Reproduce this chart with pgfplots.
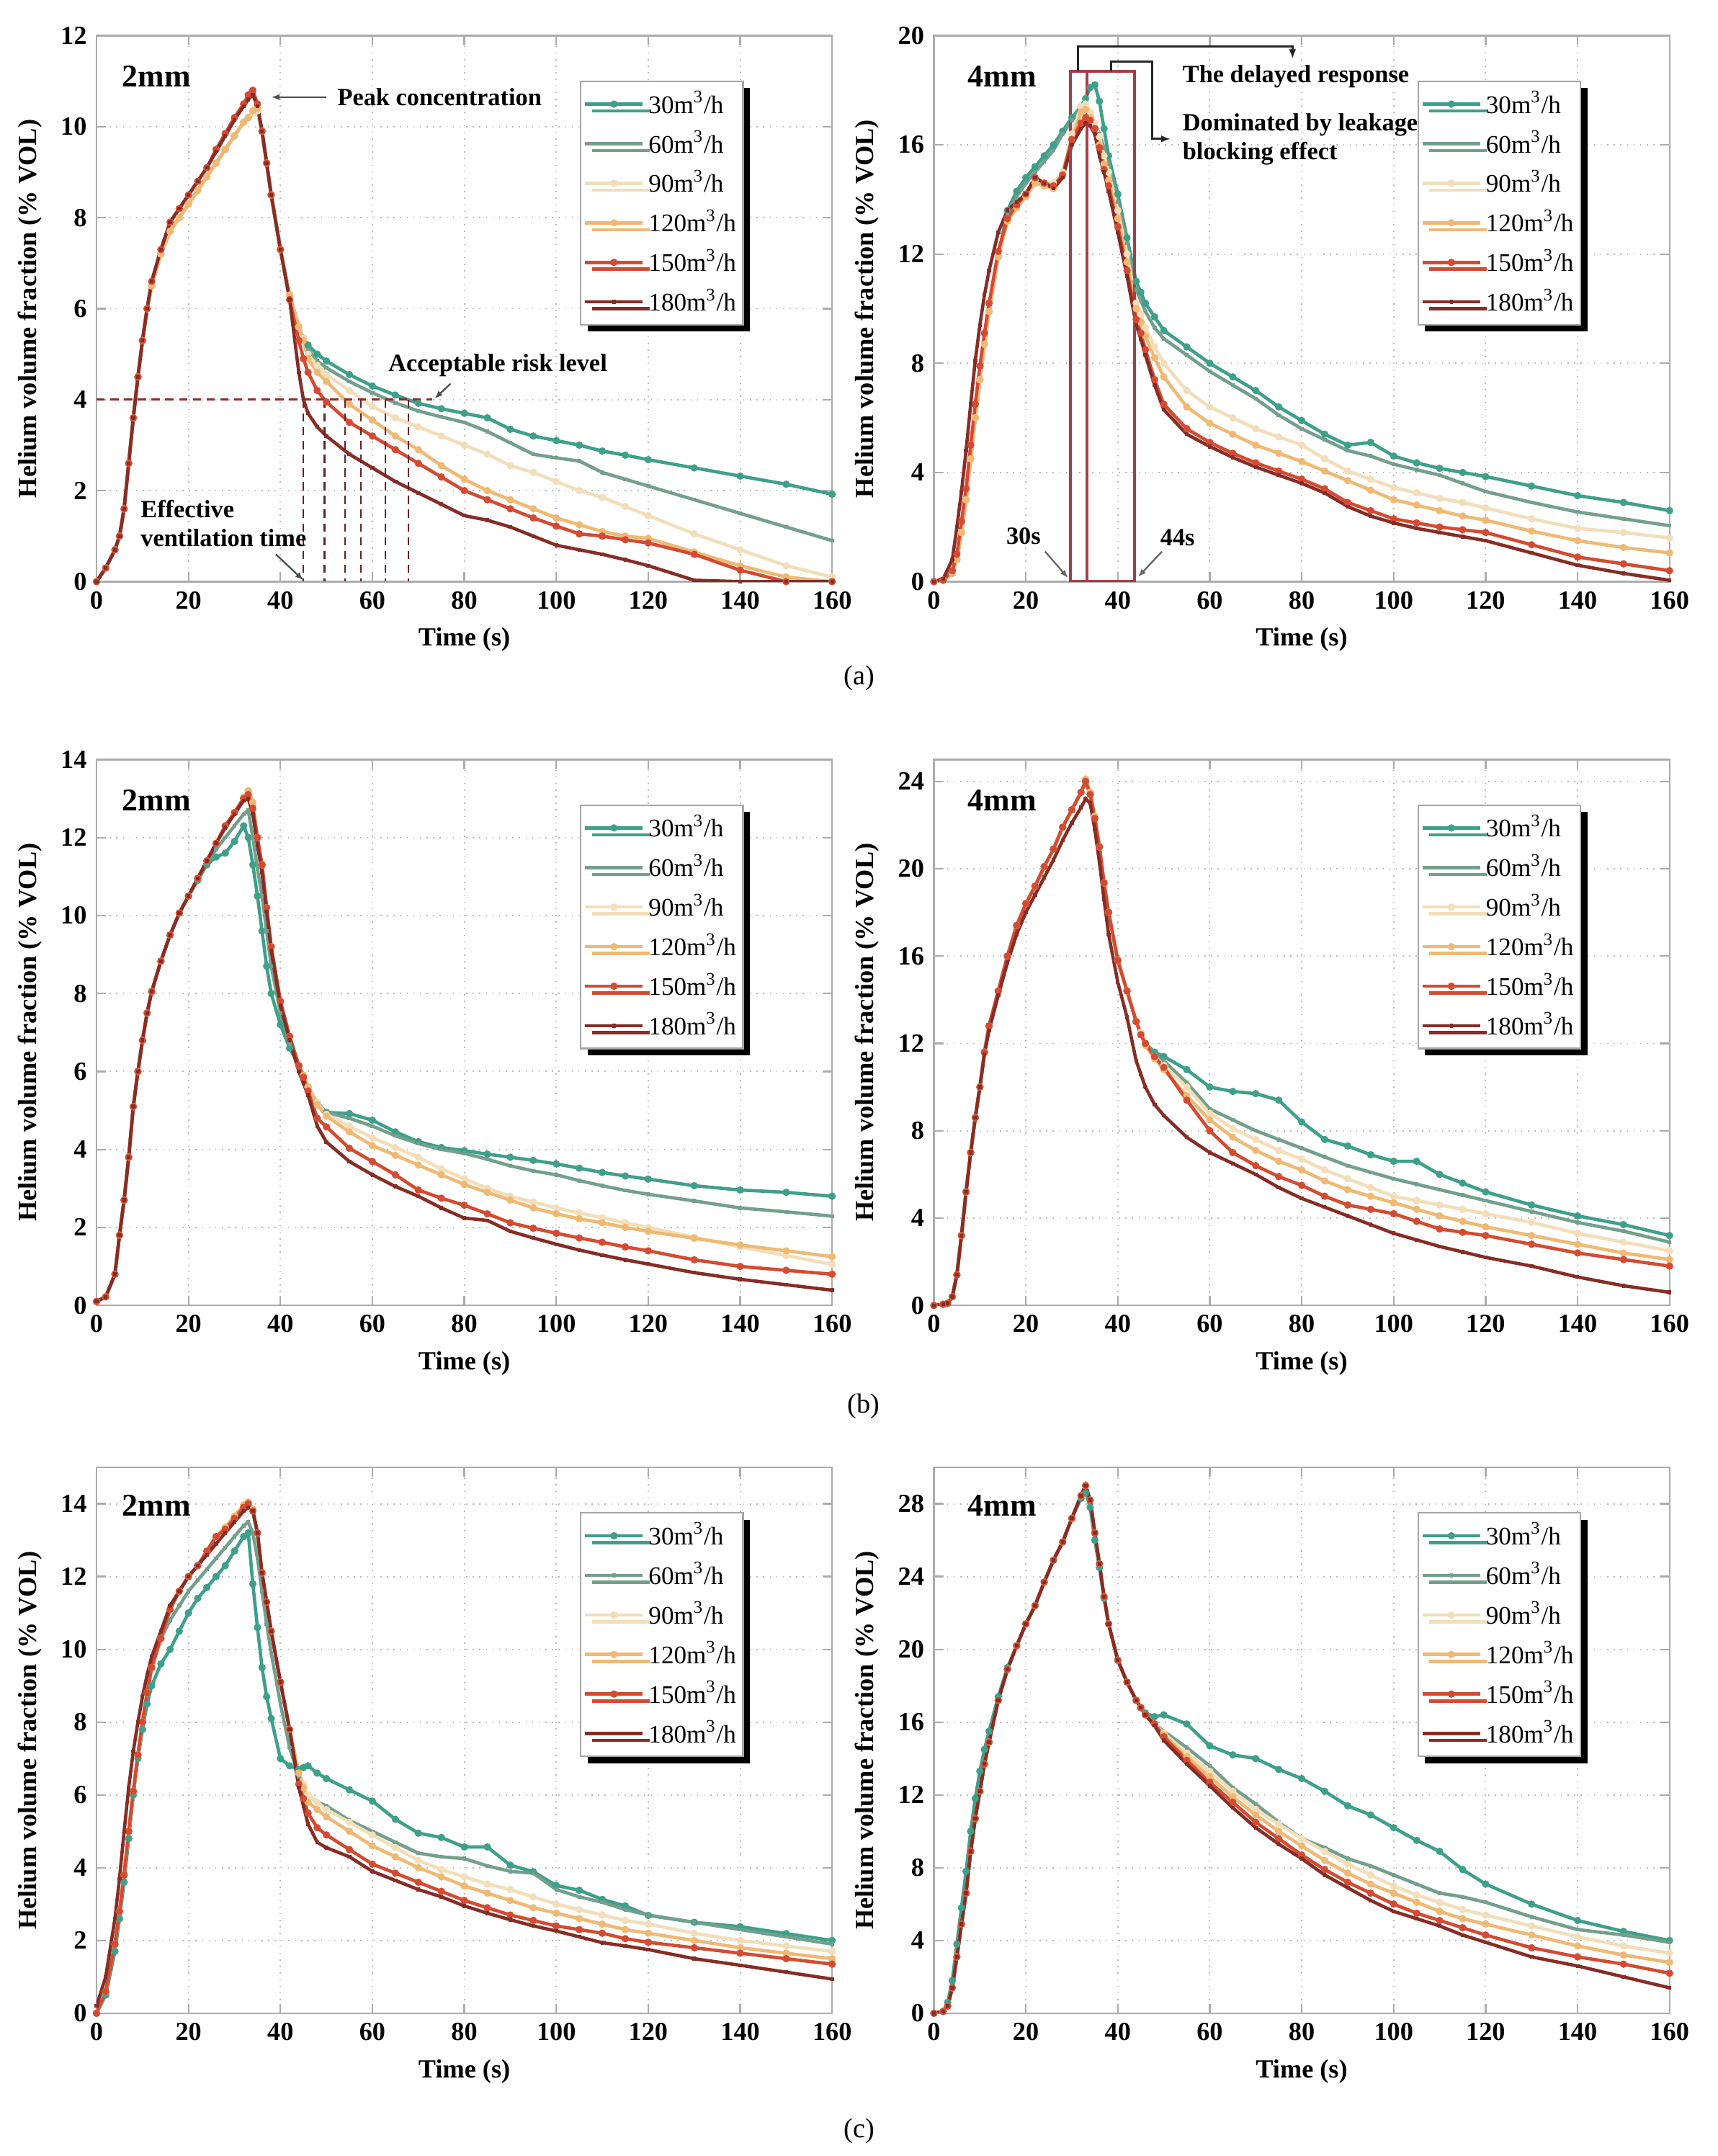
\documentclass[border=0pt]{standalone}
\usepackage{fontspec}
\setmainfont{Liberation Serif}
\usepackage{pgfplots}
\usepackage{pgfplotstable}
\pgfplotsset{compat=1.18}
\usetikzlibrary{shadows,arrows.meta}
\definecolor{c30}{RGB}{62,160,138}
\definecolor{c60}{RGB}{115,160,140}
\definecolor{c90}{RGB}{242,222,185}
\definecolor{c120}{RGB}{240,185,115}
\definecolor{c150}{RGB}{212,75,50}
\definecolor{c180}{RGB}{135,45,38}
\definecolor{crect}{RGB}{170,60,72}
\definecolor{cdash}{RGB}{150,40,40}
\definecolor{cvdash}{RGB}{100,35,35}
\newcommand{\flow}[1]{#1m\textsuperscript{3}/h}
\newcommand{\af}{\fontsize{9}{10.4}\selectfont\bfseries}

\pgfplotsset{
 panel/.style={
  scale only axis, width=267.5pt, height=198.5pt, anchor=south west,
  xmin=0, xmax=160, ymin=0, xtick={0,20,...,160},
  grid=major, grid style={dotted, gray!55, line width=0.5pt},
  axis line style={gray!65, line width=0.6pt},
  tick align=inside, major tick length=3.5pt, tick style={gray!65, line width=0.6pt},
  /pgf/number format/assume math mode=true,
  xticklabel={\textbf{\pgfmathprintnumber{\tick}}},
  yticklabel={\textbf{\pgfmathprintnumber{\tick}}},
  tick label style={font=\fontsize{9.5}{10}\selectfont\bfseries},
  label style={font=\fontsize{9.5}{11}\selectfont\bfseries},
  xlabel={Time (s)}, ylabel={Helium volume fraction (\% VOL)},
  legend cell align=left,
  legend style={at={(0.88,0.918)}, anchor=north east, draw=gray!70, line width=0.6pt, fill=white,
    font=\fontsize{9.2}{10}\selectfont, inner xsep=1pt, inner ysep=2pt, row sep=1.8pt,
    nodes={inner sep=1.5pt},
    drop shadow={shadow xshift=2.5pt, shadow yshift=-2.5pt, fill=black, opacity=1}},
  legend image code/.code={\draw[mark repeat=2,mark phase=2,##1] plot coordinates {(0pt,0pt) (10.5pt,0pt) (21pt,0pt)};},
  every axis plot/.append style={line width=1.2pt, mark size=0.7pt, mark options={solid}},
 },
 s30/.style={color=c30, mark=*},
 s60/.style={color=c60, mark=+},
 s90/.style={color=c90, mark=*},
 s120/.style={color=c120, mark=*},
 s150/.style={color=c150, mark=*},
 s180/.style={color=c180, mark=+},
}

\pgfplotstableread{
t a b c d e f
0 0 0 0 0 0 0
2 0.3 0.3 0.3 0.3 0.3 0.3
4 0.7 0.7 0.7 0.7 0.7 0.7
5 1.0 1.0 1.0 1.0 1.0 1.0
6 1.6 1.6 1.6 1.6 1.6 1.6
7 2.6 2.6 2.6 2.6 2.6 2.6
8 3.6 3.6 3.6 3.6 3.6 3.6
9 4.5 4.5 4.5 4.5 4.5 4.5
10 5.3 5.3 5.3 5.3 5.3 5.3
11 6.0 6.0 6.0 6.0 6.0 6.0
12 6.5 6.5 6.5 6.5 6.6 6.6
14 7.2 7.2 7.2 7.2 7.3 7.3
16 7.7 7.7 7.7 7.7 7.9 7.9
18 8.0 8.0 8.0 8.0 8.2 8.2
20 8.3 8.3 8.3 8.3 8.5 8.5
22 8.6 8.6 8.6 8.6 8.8 8.8
24 8.9 8.9 8.9 8.9 9.1 9.1
26 9.2 9.2 9.2 9.2 9.5 9.45
28 9.5 9.5 9.5 9.5 9.85 9.8
30 9.8 9.8 9.8 9.8 10.2 10.15
32 10.1 10.1 10.1 10.1 10.5 10.45
33 10.2 10.2 10.2 10.2 10.7 10.6
34 10.3 10.3 10.3 10.35 10.8 10.7
35 10.35 10.35 10.35 10.4 10.5 10.45
36 9.9 9.9 9.9 9.9 9.9 9.9
37 9.2 9.2 9.2 9.2 9.2 9.2
38 8.5 8.5 8.5 8.5 8.5 8.5
40 7.3 7.3 7.3 7.3 7.3 7.3
42 6.3 6.3 6.3 6.3 6.2 6.2
44 5.6 5.6 5.6 5.6 5.3 4.6
45 5.35 5.35 5.35 5.3 4.9 4.0
46 5.2 5.1 5.0 4.9 4.6 3.7
48 5.0 4.85 4.75 4.6 4.2 3.4
50 4.85 4.7 4.55 4.4 3.95 3.2
55 4.55 4.4 4.2 3.9 3.5 2.8
60 4.3 4.15 3.85 3.55 3.2 2.5
65 4.1 3.93 3.6 3.2 2.9 2.2
70 3.92 3.75 3.4 2.9 2.6 1.95
75 3.8 3.62 3.2 2.55 2.3 1.7
80 3.7 3.5 3.0 2.25 2.0 1.45
85 3.6 3.3 2.8 2.0 1.8 1.35
90 3.35 3.05 2.55 1.8 1.6 1.2
95 3.2 2.8 2.4 1.6 1.4 1.0
100 3.1 2.72 2.2 1.4 1.22 0.8
105 3.0 2.65 2.0 1.25 1.05 0.7
110 2.87 2.4 1.85 1.1 1.0 0.6
115 2.78 2.25 1.65 1.0 0.92 0.48
120 2.68 2.1 1.45 0.95 0.85 0.35
130 2.5 1.8 1.05 0.65 0.6 0.03
140 2.32 1.5 0.7 0.35 0.25 0
150 2.14 1.2 0.35 0.1 0 0
160 1.92 0.9 0.1 0 0 0
}\tAL

\pgfplotstableread{
t a b c d e f
0 0 0 0 0 0 0
2 0.05 0.05 0.05 0.05 0.05 0.1
4 0.3 0.3 0.3 0.3 0.4 0.8
5 0.8 0.8 0.8 0.8 1.0 2.0
6 1.8 1.8 1.8 1.8 2.2 3.3
7 3.0 3.0 3.0 3.0 3.4 4.8
8 4.5 4.5 4.5 4.5 5.0 6.5
9 6.0 6.0 6.0 6.0 6.5 8.1
10 7.4 7.4 7.4 7.4 7.9 9.4
11 8.7 8.7 8.7 8.7 9.1 10.5
12 9.9 9.9 9.9 9.9 10.2 11.4
14 11.9 11.9 11.9 11.9 12.1 12.8
16 13.6 13.5 13.3 13.2 13.3 13.6
18 14.3 14.1 13.8 13.7 13.8 13.9
20 14.8 14.6 14.2 14.1 14.2 14.2
22 15.2 15.0 14.7 14.6 14.8 14.8
24 15.6 15.4 14.6 14.5 14.6 14.6
26 16.0 15.8 14.6 14.4 14.5 14.4
28 16.5 16.4 15.0 14.9 14.9 14.8
30 17.0 16.9 16.4 16.2 16.2 16.0
32 17.4 17.3 17.4 17.2 16.8 16.6
33 17.7 17.4 17.5 17.3 17.0 16.8
34 18.1 17.2 17.2 17.0 16.9 16.7
35 18.2 16.8 16.8 16.6 16.6 16.4
36 17.6 16.4 16.3 16.0 15.9 15.6
37 16.6 15.9 15.6 15.3 15.1 15.0
38 15.6 15.3 15.0 14.7 14.5 14.3
40 14.2 13.9 13.6 13.3 13.0 12.8
42 12.6 12.4 12.0 11.7 11.4 11.2
44 11.0 10.7 10.2 10.0 9.6 9.4
45 10.6 10.3 9.8 9.5 9.1 8.9
46 10.2 9.9 9.3 9.0 8.5 8.3
48 9.7 9.3 8.6 8.2 7.4 7.2
50 9.2 8.9 8.0 7.5 6.5 6.3
55 8.6 8.3 7.0 6.4 5.6 5.4
60 8.0 7.7 6.4 5.8 5.1 4.95
65 7.5 7.2 6.0 5.4 4.7 4.55
70 7.0 6.7 5.6 5.0 4.35 4.2
75 6.4 6.1 5.3 4.7 4.05 3.9
80 5.9 5.6 5.0 4.4 3.75 3.6
85 5.4 5.2 4.5 4.05 3.4 3.25
90 5.0 4.8 4.05 3.7 2.9 2.75
95 5.1 4.6 3.75 3.35 2.6 2.4
100 4.6 4.3 3.45 3.0 2.3 2.15
105 4.35 4.1 3.25 2.8 2.15 1.95
110 4.15 3.9 3.05 2.6 2.0 1.8
115 4.0 3.6 2.9 2.4 1.9 1.65
120 3.85 3.3 2.7 2.25 1.8 1.5
130 3.5 2.9 2.3 1.85 1.35 1.05
140 3.15 2.55 1.95 1.5 0.9 0.6
150 2.9 2.3 1.8 1.25 0.65 0.3
160 2.6 2.05 1.6 1.05 0.4 0.05
}\tAR

\pgfplotstableread{
t a b c d e f
0 0.1 0.1 0.1 0.1 0.1 0.1
2 0.22 0.22 0.22 0.22 0.22 0.22
4 0.8 0.8 0.8 0.8 0.8 0.8
5 1.8 1.8 1.8 1.8 1.8 1.8
6 2.7 2.7 2.7 2.7 2.7 2.7
7 3.8 3.8 3.8 3.8 3.8 3.8
8 5.1 5.1 5.1 5.1 5.1 5.1
9 6.0 6.0 6.0 6.0 6.0 6.0
10 6.8 6.8 6.8 6.8 6.8 6.8
11 7.5 7.5 7.5 7.5 7.5 7.5
12 8.05 8.05 8.05 8.05 8.05 8.05
14 8.83 8.83 8.83 8.83 8.83 8.83
16 9.5 9.5 9.5 9.5 9.5 9.5
18 10.06 10.06 10.06 10.06 10.06 10.06
20 10.5 10.5 10.5 10.5 10.5 10.5
22 10.9 10.95 10.95 10.95 10.95 10.95
24 11.3 11.35 11.4 11.4 11.4 11.4
26 11.5 11.7 11.85 11.85 11.85 11.85
28 11.6 12.0 12.3 12.3 12.3 12.25
30 11.9 12.3 12.64 12.64 12.64 12.6
32 12.3 12.6 13.03 13.03 13.0 12.95
33 12.0 12.7 13.2 13.2 13.1 13.0
34 11.3 12.0 12.9 12.9 12.75 12.6
35 10.5 11.2 12.0 12.0 12.0 11.8
36 9.6 10.5 11.3 11.3 11.3 11.1
37 8.7 9.6 10.2 10.2 10.2 10.1
38 8.0 8.7 9.2 9.2 9.2 9.1
40 7.2 7.5 7.8 7.8 7.8 7.7
42 6.6 6.7 6.9 6.9 6.9 6.8
44 6.15 6.15 6.15 6.15 6.15 6.0
45 5.9 5.9 5.9 5.9 5.85 5.7
46 5.6 5.6 5.6 5.6 5.5 5.4
48 5.2 5.2 5.2 5.15 4.8 4.6
50 4.95 4.95 4.9 4.85 4.58 4.19
55 4.92 4.8 4.6 4.45 4.03 3.69
60 4.75 4.6 4.3 4.1 3.69 3.35
65 4.45 4.35 4.05 3.85 3.35 3.05
70 4.2 4.15 3.8 3.6 2.96 2.8
75 4.05 4.0 3.5 3.35 2.75 2.5
80 3.97 3.9 3.25 3.1 2.57 2.24
85 3.88 3.75 3.0 2.9 2.35 2.18
90 3.8 3.58 2.8 2.7 2.12 1.9
95 3.72 3.45 2.65 2.5 1.98 1.73
100 3.63 3.35 2.5 2.35 1.85 1.57
105 3.52 3.2 2.37 2.22 1.73 1.42
110 3.41 3.07 2.25 2.12 1.62 1.29
115 3.32 2.95 2.12 2.0 1.5 1.17
120 3.24 2.85 2.0 1.9 1.4 1.06
130 3.07 2.68 1.75 1.72 1.17 0.84
140 2.96 2.5 1.5 1.55 1.0 0.67
150 2.9 2.4 1.28 1.4 0.9 0.53
160 2.8 2.29 1.05 1.25 0.8 0.39
}\tBL

\pgfplotstableread{
t a b c d e f
0 0 0 0 0 0 0
2 0.05 0.05 0.05 0.05 0.05 0.05
3 0.1 0.1 0.1 0.1 0.1 0.1
4 0.4 0.4 0.4 0.4 0.4 0.4
5 1.4 1.4 1.4 1.4 1.4 1.4
6 3.2 3.2 3.2 3.2 3.2 3.2
7 5.2 5.2 5.2 5.2 5.2 5.2
8 7.0 7.0 7.0 7.0 7.0 7.0
9 8.6 8.6 8.6 8.6 8.6 8.6
10 10.0 10.0 10.0 10.0 10.0 10.0
11 11.6 11.6 11.6 11.6 11.6 11.5
12 12.8 12.8 12.8 12.8 12.8 12.6
14 14.4 14.4 14.4 14.4 14.4 14.2
16 16.0 16.0 16.0 16.0 16.0 15.7
18 17.4 17.4 17.4 17.4 17.4 17.0
20 18.4 18.4 18.4 18.4 18.4 18.0
22 19.2 19.2 19.2 19.2 19.2 18.8
24 20.1 20.1 20.1 20.1 20.1 19.6
26 20.9 20.9 20.9 20.9 20.9 20.4
28 21.9 21.9 21.9 21.9 21.9 21.3
30 22.7 22.7 22.7 22.7 22.7 22.1
32 23.5 23.5 23.5 23.5 23.5 22.8
33 24.0 24.0 24.1 24.1 24.0 23.2
34 23.4 23.4 23.5 23.5 23.4 23.0
35 22.3 22.3 22.4 22.4 22.3 21.8
36 21.0 21.0 21.0 21.0 21.0 20.3
37 19.35 19.35 19.35 19.35 19.35 18.6
38 18.0 18.0 18.0 18.0 18.0 17.0
40 15.8 15.8 15.8 15.8 15.8 14.8
42 14.4 14.4 14.4 14.4 14.4 13.2
44 13.0 13.0 13.0 13.0 13.0 11.2
45 12.5 12.5 12.5 12.4 12.4 10.6
46 12.0 12.0 12.0 11.9 12.0 10.0
48 11.6 11.5 11.4 11.3 11.4 9.2
50 11.4 11.2 11.0 10.8 10.9 8.7
55 10.8 10.2 10.0 9.6 9.4 7.7
60 10.0 9.0 8.8 8.5 8.0 7.0
65 9.8 8.5 8.1 7.7 7.0 6.5
70 9.7 8.0 7.6 7.1 6.4 6.0
75 9.4 7.6 7.1 6.6 5.9 5.4
80 8.4 7.2 6.7 6.2 5.5 4.9
85 7.6 6.8 6.2 5.7 5.0 4.5
90 7.3 6.4 5.8 5.3 4.6 4.1
95 6.9 6.1 5.4 5.0 4.4 3.7
100 6.6 5.8 5.0 4.7 4.2 3.3
105 6.6 5.55 4.8 4.4 3.85 3.0
110 6.0 5.3 4.6 4.1 3.5 2.7
115 5.6 5.05 4.4 3.85 3.35 2.45
120 5.2 4.8 4.2 3.6 3.2 2.2
130 4.6 4.3 3.8 3.2 2.8 1.8
140 4.1 3.8 3.3 2.8 2.4 1.3
150 3.7 3.4 2.9 2.4 2.1 0.9
160 3.2 2.9 2.5 2.1 1.8 0.6
}\tBR

\pgfplotstableread{
t a b c d e f
0 0 0 0 0 0 0.2
2 0.5 0.6 0.6 0.6 0.6 1.0
4 1.7 1.9 1.9 1.9 1.9 2.6
5 2.6 2.8 2.8 2.8 2.8 3.7
6 3.6 3.8 3.8 3.8 3.8 5.0
7 4.8 5.0 5.0 5.0 5.0 6.2
8 6.0 6.1 6.1 6.1 6.1 7.2
9 7.0 7.1 7.1 7.1 7.1 8.0
10 7.8 8.0 8.0 8.0 8.0 8.7
11 8.5 8.8 8.8 8.8 8.8 9.3
12 9.0 9.5 9.5 9.5 9.5 9.8
14 9.6 10.3 10.3 10.3 10.3 10.5
16 10.0 10.8 11.1 11.1 11.1 11.2
18 10.5 11.2 11.6 11.6 11.6 11.6
20 11.0 11.6 12.0 12.0 12.0 12.0
22 11.4 11.9 12.3 12.3 12.3 12.3
24 11.7 12.2 12.7 12.7 12.7 12.6
26 12.0 12.5 13.1 13.1 13.1 12.9
28 12.3 12.8 13.35 13.35 13.3 13.2
30 12.7 13.1 13.66 13.66 13.6 13.5
32 13.1 13.4 13.97 13.97 13.9 13.8
33 13.2 13.5 14.05 14.05 14.0 13.9
34 11.8 13.2 13.85 13.85 13.8 13.8
35 10.6 12.5 13.2 13.2 13.2 13.2
36 9.5 11.6 12.1 12.1 12.1 12.1
37 8.7 10.7 11.3 11.3 11.3 11.3
38 8.1 9.9 10.5 10.5 10.5 10.5
40 7.0 8.5 9.1 9.1 9.1 9.1
42 6.8 7.3 7.8 7.8 7.8 7.8
44 6.7 6.5 6.6 6.6 6.3 6.2
45 6.75 6.2 6.3 6.2 5.9 5.7
46 6.8 6.0 6.0 5.8 5.5 5.2
48 6.6 5.8 5.8 5.6 5.1 4.7
50 6.45 5.7 5.6 5.4 4.9 4.55
55 6.14 5.3 5.25 5.0 4.5 4.3
60 5.83 5.0 4.9 4.6 4.1 3.9
65 5.33 4.7 4.55 4.3 3.85 3.65
70 4.95 4.4 4.2 4.0 3.6 3.4
75 4.83 4.3 3.95 3.75 3.35 3.2
80 4.57 4.25 3.75 3.5 3.1 2.95
85 4.57 4.05 3.55 3.3 2.9 2.75
90 4.07 3.9 3.4 3.1 2.7 2.57
95 3.89 3.85 3.2 2.9 2.55 2.4
100 3.51 3.4 3.0 2.75 2.4 2.26
105 3.38 3.2 2.85 2.6 2.3 2.1
110 3.13 3.05 2.7 2.45 2.2 1.94
115 2.95 2.85 2.55 2.3 2.05 1.85
120 2.69 2.7 2.45 2.2 1.95 1.75
130 2.5 2.5 2.2 2.0 1.8 1.5
140 2.38 2.3 2.0 1.8 1.65 1.32
150 2.19 2.1 1.85 1.65 1.5 1.13
160 2.0 1.9 1.7 1.5 1.35 0.94
}\tCL

\pgfplotstableread{
t a b c d e f
0 0 0 0 0 0 0
2 0.1 0.1 0.1 0.1 0.1 0.1
3 0.6 0.4 0.4 0.4 0.4 0.4
4 1.8 1.4 1.4 1.4 1.4 1.4
5 3.8 3.1 3.1 3.1 3.1 3.1
6 5.8 4.9 4.9 4.9 4.9 4.9
7 7.8 6.6 6.6 6.6 6.6 6.6
8 10.0 8.9 8.9 8.9 8.9 8.9
9 11.8 10.7 10.7 10.7 10.7 10.7
10 13.3 12.2 12.2 12.2 12.2 12.2
11 14.5 13.7 13.7 13.7 13.7 13.7
12 15.5 14.9 14.9 14.9 14.9 14.9
14 17.4 17.2 17.2 17.2 17.2 17.2
16 19.0 18.9 18.9 18.9 18.9 18.9
18 20.2 20.2 20.2 20.2 20.2 20.2
20 21.4 21.4 21.4 21.4 21.4 21.4
22 22.4 22.4 22.4 22.4 22.4 22.4
24 23.7 23.7 23.7 23.7 23.7 23.7
26 24.9 24.9 24.9 24.9 24.9 24.9
28 25.9 25.9 25.9 25.9 25.9 25.9
30 27.2 27.2 27.2 27.2 27.2 27.2
32 28.3 28.45 28.45 28.45 28.45 28.45
33 28.6 29.0 29.0 29.0 29.0 29.0
34 27.8 28.2 28.2 28.2 28.2 28.2
35 26.0 26.4 26.4 26.4 26.4 26.4
36 24.5 24.7 24.7 24.7 24.7 24.7
37 22.8 22.9 22.9 22.9 22.9 22.9
38 21.4 21.4 21.4 21.4 21.4 21.4
40 19.4 19.4 19.4 19.4 19.4 19.4
42 18.2 18.2 18.2 18.2 18.2 18.2
44 17.2 17.2 17.2 17.2 17.2 17.2
45 16.8 16.8 16.8 16.8 16.8 16.8
46 16.5 16.4 16.4 16.4 16.4 16.4
48 16.3 15.9 15.9 15.9 15.9 15.8
50 16.4 15.5 15.4 15.3 15.2 15.0
55 15.9 14.6 14.3 14.1 13.9 13.7
60 14.7 13.6 13.3 13.0 12.7 12.5
65 14.2 12.4 12.2 11.9 11.6 11.3
70 14.0 11.5 11.2 10.9 10.5 10.2
75 13.4 10.5 10.4 10.0 9.6 9.3
80 12.9 9.6 9.6 9.2 8.7 8.5
85 12.2 9.1 8.9 8.4 7.9 7.6
90 11.4 8.5 8.2 7.7 7.2 6.9
95 10.9 8.1 7.6 7.1 6.6 6.2
100 10.2 7.6 7.0 6.6 6.0 5.6
105 9.5 7.1 6.5 6.1 5.5 5.2
110 8.9 6.6 6.1 5.6 5.1 4.8
115 7.9 6.4 5.7 5.2 4.7 4.3
120 7.1 6.1 5.4 4.9 4.3 3.9
130 6.0 5.3 4.8 4.3 3.6 3.1
140 5.1 4.6 4.2 3.7 3.1 2.6
150 4.5 4.3 3.7 3.2 2.7 2.0
160 4.0 3.9 3.3 2.8 2.2 1.4
}\tCR

\begin{document}
\begin{tikzpicture}
\useasboundingbox (0,0) rectangle (624.5pt,784pt);

% ---------------- (a) left
\begin{axis}[panel, at={(35.1pt,572.5pt)}, ymax=12, ytick={0,2,...,12}]
\addplot[s30] table[x=t,y=a]{\tAL};
\addplot[s60] table[x=t,y=b]{\tAL};
\addplot[s90] table[x=t,y=c]{\tAL};
\addplot[s120] table[x=t,y=d]{\tAL};
\addplot[s150] table[x=t,y=e]{\tAL};
\addplot[s180] table[x=t,y=f]{\tAL};
\legend{\flow{30},\flow{60},\flow{90},\flow{120},\flow{150},\flow{180}}
\draw[densely dashed, cdash, line width=0.7pt] (axis cs:0,4) -- (axis cs:73,4);
\draw[densely dashed, cvdash, line width=0.6pt] (axis cs:45,4) -- (axis cs:45,0);
\draw[densely dashed, cvdash, line width=0.6pt] (axis cs:49.6,4) -- (axis cs:49.6,0);
\draw[densely dashed, cvdash, line width=0.6pt] (axis cs:54,4) -- (axis cs:54,0);
\draw[densely dashed, cvdash, line width=0.6pt] (axis cs:57.5,4) -- (axis cs:57.5,0);
\draw[densely dashed, cvdash, line width=0.6pt] (axis cs:62.8,4) -- (axis cs:62.8,0);
\draw[densely dashed, cvdash, line width=0.6pt] (axis cs:67.8,4) -- (axis cs:67.8,0);
\draw[-{Latex[length=3pt]}, black!70, line width=0.6pt] (axis cs:50,10.65) -- (axis cs:38,10.65);
\node[anchor=west, font=\af] at (axis cs:50.3,10.65) {Peak concentration};
\node[anchor=west, font=\af] at (axis cs:61.4,4.75) {Acceptable risk level};
\draw[-{Latex[length=3pt]}, black!70, line width=0.6pt] (axis cs:77,4.35) -- (axis cs:73.5,4.02);
\node[anchor=west, align=left, font=\af] at (axis cs:7.5,1.28) {Effective\\ventilation time};
\draw[-{Latex[length=3pt]}, black!70, line width=0.6pt] (axis cs:39,0.6) -- (axis cs:45,0.03);
\node[anchor=west, font=\fontsize{11.5}{13}\selectfont\bfseries] at (rel axis cs:0.022,0.925) {2mm};
\end{axis}

% ---------------- (a) right
\begin{axis}[panel, at={(339.6pt,572.5pt)}, ymax=20, ytick={0,4,...,20}]
\addplot[s30] table[x=t,y=a]{\tAR};
\addplot[s60] table[x=t,y=b]{\tAR};
\addplot[s90] table[x=t,y=c]{\tAR};
\addplot[s120] table[x=t,y=d]{\tAR};
\addplot[s150] table[x=t,y=e]{\tAR};
\addplot[s180] table[x=t,y=f]{\tAR};
\legend{\flow{30},\flow{60},\flow{90},\flow{120},\flow{150},\flow{180}}
\draw[crect, line width=1pt] (axis cs:29.7,0) rectangle (axis cs:43.6,18.7);
\draw[crect, line width=1pt] (axis cs:33.3,0) -- (axis cs:33.3,18.7);
\draw[-{Latex[length=3.5pt]}, black!85, line width=0.8pt] (axis cs:31.4,18.7) -- (axis cs:31.4,19.6) -- (axis cs:78,19.6) -- (axis cs:78,19.15);
\draw[-{Latex[length=3.5pt]}, black!85, line width=0.8pt] (axis cs:38.6,18.7) -- (axis cs:38.6,19.05) -- (axis cs:47.5,19.05) -- (axis cs:47.5,16.22) -- (axis cs:51.5,16.22);
\node[anchor=west, font=\af] at (axis cs:52,18.5) {The delayed response};
\node[anchor=west, align=left, font=\af] at (axis cs:52,16.2) {Dominated by leakage\\blocking effect};
\node[font=\af] at (axis cs:19.5,1.67) {30s};
\draw[-{Latex[length=3pt]}, black!60, line width=0.6pt] (axis cs:24.2,1.1) -- (axis cs:29.2,0.13);
\node[font=\af] at (axis cs:53,1.62) {44s};
\draw[-{Latex[length=3pt]}, black!60, line width=0.6pt] (axis cs:49.6,1.1) -- (axis cs:44.4,0.17);
\node[anchor=west, font=\fontsize{11.5}{13}\selectfont\bfseries] at (rel axis cs:0.033,0.925) {4mm};
\end{axis}

% ---------------- (b) left
\begin{axis}[panel, at={(35.1pt,309.3pt)}, ymax=14, ytick={0,2,...,14}]
\addplot[s30] table[x=t,y=a]{\tBL};
\addplot[s60] table[x=t,y=b]{\tBL};
\addplot[s90] table[x=t,y=c]{\tBL};
\addplot[s120] table[x=t,y=d]{\tBL};
\addplot[s150] table[x=t,y=e]{\tBL};
\addplot[s180] table[x=t,y=f]{\tBL};
\legend{\flow{30},\flow{60},\flow{90},\flow{120},\flow{150},\flow{180}}
\node[anchor=west, font=\fontsize{11.5}{13}\selectfont\bfseries] at (rel axis cs:0.022,0.925) {2mm};
\end{axis}

% ---------------- (b) right
\begin{axis}[panel, at={(339.6pt,309.3pt)}, ymax=25, ytick={0,4,...,24}]
\addplot[s30] table[x=t,y=a]{\tBR};
\addplot[s60] table[x=t,y=b]{\tBR};
\addplot[s90] table[x=t,y=c]{\tBR};
\addplot[s120] table[x=t,y=d]{\tBR};
\addplot[s150] table[x=t,y=e]{\tBR};
\addplot[s180] table[x=t,y=f]{\tBR};
\legend{\flow{30},\flow{60},\flow{90},\flow{120},\flow{150},\flow{180}}
\node[anchor=west, font=\fontsize{11.5}{13}\selectfont\bfseries] at (rel axis cs:0.033,0.925) {4mm};
\end{axis}

% ---------------- (c) left
\begin{axis}[panel, at={(35.1pt,51.9pt)}, ymax=15, ytick={0,2,...,14}]
\addplot[s30] table[x=t,y=a]{\tCL};
\addplot[s60] table[x=t,y=b]{\tCL};
\addplot[s90] table[x=t,y=c]{\tCL};
\addplot[s120] table[x=t,y=d]{\tCL};
\addplot[s150] table[x=t,y=e]{\tCL};
\addplot[s180] table[x=t,y=f]{\tCL};
\legend{\flow{30},\flow{60},\flow{90},\flow{120},\flow{150},\flow{180}}
\node[anchor=west, font=\fontsize{11.5}{13}\selectfont\bfseries] at (rel axis cs:0.022,0.93) {2mm};
\end{axis}

% ---------------- (c) right
\begin{axis}[panel, at={(339.6pt,51.9pt)}, ymax=30, ytick={0,4,...,28}]
\addplot[s30] table[x=t,y=a]{\tCR};
\addplot[s60] table[x=t,y=b]{\tCR};
\addplot[s90] table[x=t,y=c]{\tCR};
\addplot[s120] table[x=t,y=d]{\tCR};
\addplot[s150] table[x=t,y=e]{\tCR};
\addplot[s180] table[x=t,y=f]{\tCR};
\legend{\flow{30},\flow{60},\flow{90},\flow{120},\flow{150},\flow{180}}
\node[anchor=west, font=\fontsize{11.5}{13}\selectfont\bfseries] at (rel axis cs:0.033,0.93) {4mm};
\end{axis}

\node[font=\fontsize{10}{12}\selectfont] at (312.5pt,537.5pt) {(a)};
\node[font=\fontsize{10}{12}\selectfont] at (314pt,272.5pt) {(b)};
\node[font=\fontsize{10}{12}\selectfont] at (312.5pt,9pt) {(c)};
\end{tikzpicture}
\end{document}
